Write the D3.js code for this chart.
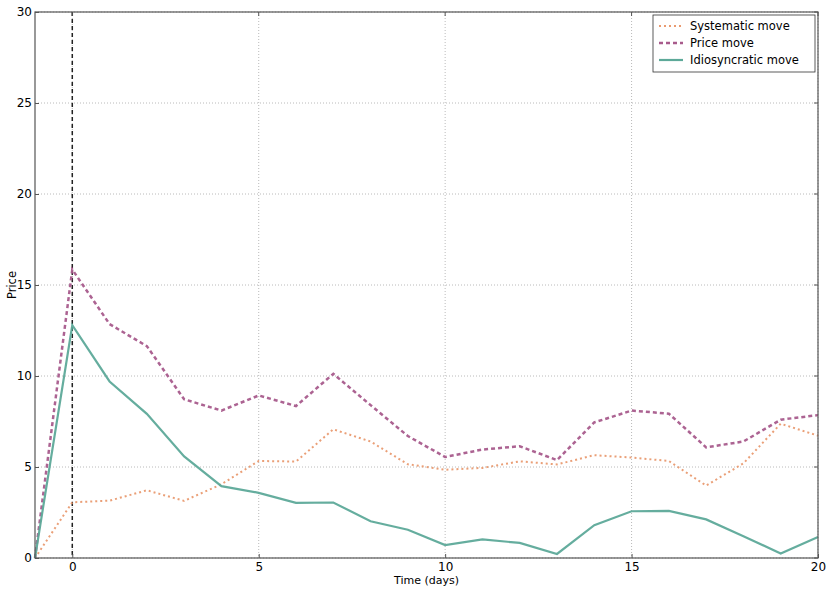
<!DOCTYPE html>
<html><head><meta charset="utf-8">
<script src="https://cdn.jsdelivr.net/npm/d3@7"></script>
<style>body{margin:0;background:#fff;} text{font-family:"DejaVu Sans",sans-serif;}</style>
</head><body><svg id="c" width="830" height="592"></svg>
<script>
const days = [-1,0,1,2,3,4,5,6,7,8,9,10,11,12,13,14,15,16,17,18,19,20];
const systematic = [0,3.06,3.15,3.72,3.14,4.05,5.33,5.3,7.07,6.4,5.15,4.85,4.95,5.31,5.14,5.65,5.52,5.33,3.98,5.2,7.38,6.72];
const price = [0,15.85,12.85,11.64,8.72,8.1,8.93,8.35,10.12,8.4,6.7,5.55,5.96,6.14,5.38,7.45,8.1,7.93,6.08,6.4,7.6,7.85];
const idio = [0,12.79,9.7,7.92,5.58,3.95,3.58,3.03,3.05,2.02,1.55,0.71,1.02,0.83,0.22,1.8,2.57,2.59,2.12,1.2,0.25,1.15];
const xTicks = [0,5,10,15,20];
const yTicks = [0,5,10,15,20,25,30];
const seriesNames = ["Systematic move","Price move","Idiosyncratic move"];

const svg = d3.select("#c");
const L=35, R=818, T=12, B=558;
const x = d3.scaleLinear().domain([-1,20]).range([L,R]);
const y = d3.scaleLinear().domain([0,30]).range([B,T]);

// grid
const g = svg.append("g");
g.selectAll(".gx").data(xTicks).join("line")
 .attr("x1",d=>x(d)).attr("x2",d=>x(d)).attr("y1",T).attr("y2",B)
 .attr("stroke","#a8a8a8").attr("stroke-width",0.8).attr("stroke-dasharray","1,2");
g.selectAll(".gy").data(yTicks).join("line")
 .attr("y1",d=>y(d)).attr("y2",d=>y(d)).attr("x1",L).attr("x2",R)
 .attr("stroke","#a8a8a8").attr("stroke-width",0.8).attr("stroke-dasharray","1,2");

// vertical dashed line at 0
svg.append("line").attr("x1",x(0)).attr("x2",x(0)).attr("y1",T).attr("y2",B)
 .attr("stroke","#222").attr("stroke-width",1.5).attr("stroke-dasharray","4,3");

const line = vals => d3.line().x((d,i)=>x(days[i])).y(d=>y(d))(vals);
const styles = [
 {vals:systematic, color:"#e99a70", dash:"2,3", w:2},
 {vals:price, color:"#a85b8c", dash:"4,3", w:2.5},
 {vals:idio, color:"#5da999", dash:null, w:2.2}
];
styles.forEach(s=>{
 const p = svg.append("path").attr("d",line(s.vals)).attr("fill","none")
  .attr("stroke",s.color).attr("stroke-width",s.w).attr("stroke-opacity",0.95);
 if(s.dash) p.attr("stroke-dasharray",s.dash);
});

// frame
svg.append("rect").attr("x",L).attr("y",T).attr("width",R-L).attr("height",B-T)
 .attr("fill","none").attr("stroke","#555").attr("stroke-width",1.2);

// axes
const xa = svg.append("g").attr("transform",`translate(0,${B})`)
 .call(d3.axisBottom(x).tickValues(xTicks).tickSizeInner(-4).tickSizeOuter(0).tickPadding(4));
const ya = svg.append("g").attr("transform",`translate(${L},0)`)
 .call(d3.axisLeft(y).tickValues(yTicks).tickSizeInner(-4).tickSizeOuter(0).tickPadding(3));
[xa,ya].forEach(a=>{
 a.select(".domain").remove();
 a.selectAll("line").attr("stroke","#555");
 a.selectAll("text").attr("font-size",12).attr("fill","#000").attr("font-family","DejaVu Sans");
});
// top/right ticks
svg.selectAll(".tt").data(xTicks).join("line").attr("x1",d=>x(d)).attr("x2",d=>x(d)).attr("y1",T).attr("y2",T+4).attr("stroke","#555");
svg.selectAll(".rt").data(yTicks).join("line").attr("y1",d=>y(d)).attr("y2",d=>y(d)).attr("x1",R).attr("x2",R-4).attr("stroke","#555");

svg.append("text").attr("x",(L+R)/2).attr("y",584).attr("text-anchor","middle").attr("font-size",11).text("Time (days)");
svg.append("text").attr("transform",`translate(16,${(T+B)/2}) rotate(-90)`).attr("text-anchor","middle").attr("font-size",11.5).text("Price");

// legend
const lg = svg.append("g");
lg.append("rect").attr("x",653).attr("y",15).attr("width",162).attr("height",57).attr("fill","#fff").attr("stroke","#333").attr("stroke-width",0.8);
styles.forEach((s,i)=>{
 const yy = 26 + i*17;
 const l = lg.append("line").attr("x1",659).attr("x2",683).attr("y1",yy).attr("y2",yy).attr("stroke",s.color).attr("stroke-width",s.w);
 if(s.dash) l.attr("stroke-dasharray",s.dash);
 lg.append("text").attr("x",690).attr("y",yy+4).attr("font-size",11.5).text(seriesNames[i]);
});
</script></body></html>
